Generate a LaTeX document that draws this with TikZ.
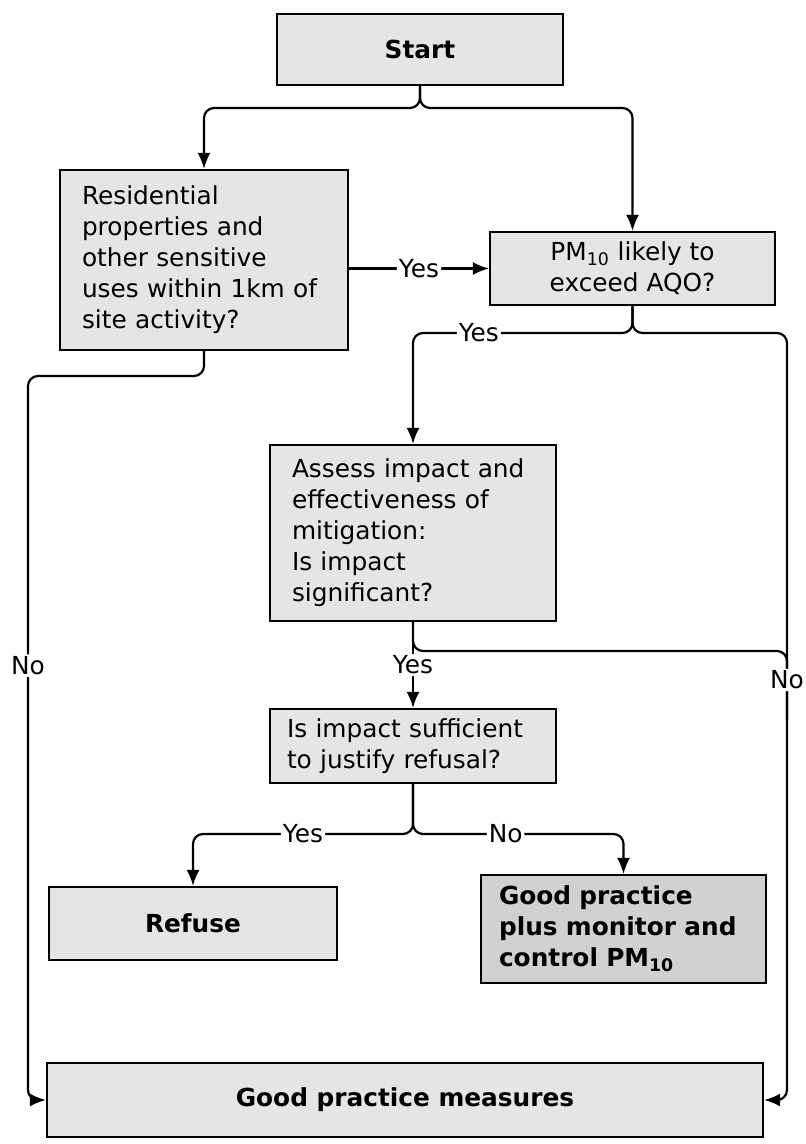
\documentclass[tikz,border=0pt]{standalone}
\usepackage{fontspec}
\setmainfont{DejaVu Sans}
\usetikzlibrary{arrows.meta}
\newcommand\flowfont{\fontsize{12.4}{15.5}\selectfont}
\tikzset{
  box/.style={draw, line width=1.1pt, fill=black!10, font=\flowfont},
  bbox/.style={box, font=\flowfont\bfseries},
  qbox/.style={box, align=left, inner xsep=11pt, text width=#1},
  lbl/.style={fill=white, inner sep=1pt, font=\flowfont},
  line/.style={line width=1.1pt, rounded corners=5pt},
  arr/.style={line, -{Latex[length=8pt,width=6.5pt]}},
}
\begin{document}
\begin{tikzpicture}[x=0.5pt, y=-0.5pt]
  \useasboundingbox (0,0) rectangle (805,1144);
  \node[bbox, minimum width=143pt, minimum height=35.5pt] (start) at (420,49.5) {Start};
  \node[qbox=122pt, minimum height=90pt] (residential) at (204,260)
    {Residential\\ properties and\\ other sensitive\\ uses within 1km of\\ site activity?};
  \node[box, align=center, minimum width=142.5pt, minimum height=36.5pt] (pm) at (632.5,268.5)
    {PM\textsubscript{10} likely to\\ exceed AQO?};
  \node[qbox=121pt, minimum height=88pt] (assess) at (413,533)
    {Assess impact and\\ effectiveness of\\ mitigation:\\ Is impact\\ significant?};
  \node[qbox=126pt, inner xsep=8.5pt, minimum height=37pt] (isimp) at (413,746)
    {Is impact sufficient\\ to justify refusal?};
  \node[bbox, minimum width=144pt, minimum height=36.5pt] (refuse) at (193,923.5) {Refuse};
  \node[bbox, fill=black!18, align=left, inner xsep=9pt, text width=124.5pt, minimum height=54pt] (gpp) at (623.5,929)
    {Good practice\\ plus monitor and\\ control PM\textsubscript{10}};
  \node[bbox, minimum width=358pt, minimum height=37pt] (gpm) at (405,1100) {Good practice measures};

  \coordinate (startsplit) at (420,108);
  \coordinate (pmsplit) at (632.5,333);
  \coordinate (assesssplit) at (413,651);
  \coordinate (isimpsplit) at (413,834);
  \coordinate (leftrail) at (28,376);
  \coordinate (rightrail) at (787,720);

  \draw[arr] (start.south) -- (startsplit) -| (residential.north);
  \draw[arr] (start.south) -- (startsplit) -| (pm.north);
  \draw[arr] (residential.east |- pm.west) -- node[lbl]{Yes} (pm.west);
  \draw[arr] (residential.south) |- (leftrail) |- node[lbl, pos=0.2]{No} (gpm.west);
  \draw[arr] (pm.south) -- (pmsplit) -| (rightrail) |- (gpm.east);
  \draw[arr] (pm.south) -- (pmsplit) -| node[lbl, pos=0.35]{Yes} (assess.north);
  \draw[line] (assess.south) -- (assesssplit) -| node[lbl, pos=0.71]{No} (rightrail);
  \draw[arr] (assess.south) -- node[lbl]{Yes} (isimp.north);
  \draw[arr] (isimp.south) -- (isimpsplit) -| node[lbl, pos=0.25]{Yes} (refuse.north);
  \draw[arr] (isimp.south) -- (isimpsplit) -| node[lbl, pos=0.22]{No} (gpp.north);
\end{tikzpicture}
\end{document}
